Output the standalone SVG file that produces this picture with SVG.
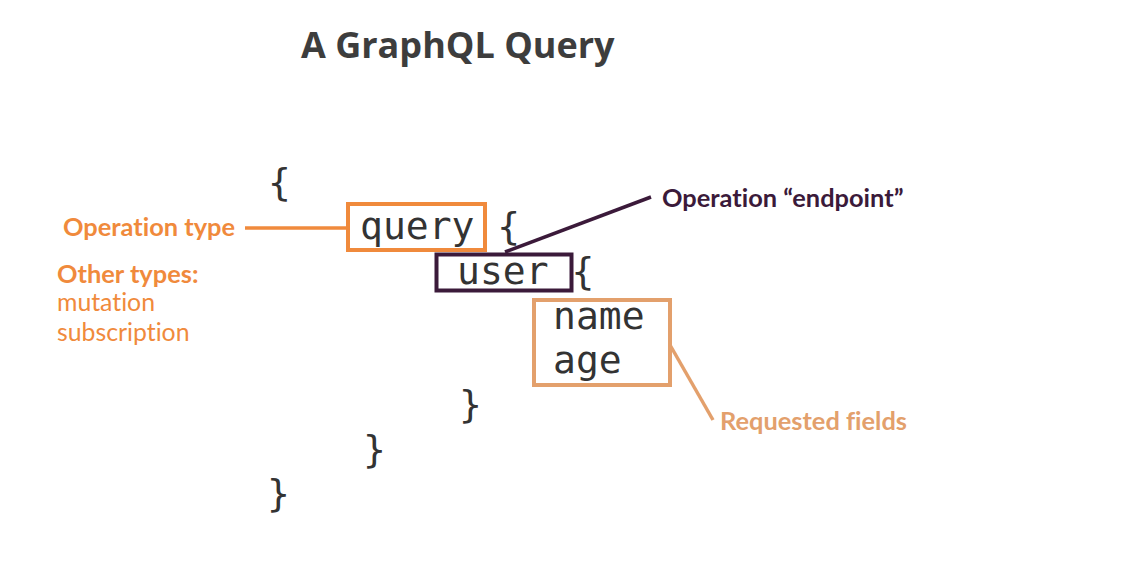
<svg xmlns="http://www.w3.org/2000/svg" width="1121" height="571" viewBox="0 0 1121 571">
<style>
.code{font-family:"DejaVu Sans Mono","Liberation Mono",monospace;font-size:38px;fill:#333333}
.lbl{font-family:Lato,"Open Sans",sans-serif;font-size:24.8px;font-variant-ligatures:none}
.b{font-weight:bold;font-size:25.4px}
.title{font-family:"Open Sans","Noto Sans",sans-serif;font-weight:bold;font-size:36px;fill:#3d3d3d}
.box{fill:none;stroke-width:4}
</style>
<rect width="1121" height="571" fill="#ffffff"/>
<g id="title"><text class="title" x="301" y="58">A GraphQL Query</text></g>
<g id="code">
<text class="code" x="268" y="195">{</text>
<text class="code" x="360" y="239">query {</text>
<text class="code" x="457" y="284">user {</text>
<text class="code" x="553" y="329">name</text>
<text class="code" x="553" y="373">age</text>
<text class="code" x="459" y="417">}</text>
<text class="code" x="363" y="462">}</text>
<text class="code" x="267" y="506">}</text>
</g>
<g id="connectors">
<line x1="245" y1="228" x2="348" y2="228" stroke="#f08a3c" stroke-width="3.5"/>
<line x1="505" y1="252" x2="651" y2="197" stroke="#3b1a3a" stroke-width="3.5"/>
<line x1="670" y1="345" x2="713" y2="420" stroke="#e3a06c" stroke-width="3.5"/>
</g>
<g id="query-box"><rect class="box" x="348" y="204" width="137" height="46" stroke="#f08a3c"/></g>
<g id="user-box"><rect class="box" x="436.5" y="254.5" width="135" height="36" stroke="#3b1a3a"/></g>
<g id="fields-box"><rect class="box" x="534" y="300" width="136" height="85" stroke="#e3a06c"/></g>
<g id="operation-type">
<text class="lbl b" x="63" y="236" fill="#f08a3c">Operation type</text>
<text class="lbl b" x="57" y="283" fill="#f08a3c">Other types:</text>
<text class="lbl" x="57" y="311" fill="#f08a3c">mutation</text>
<text class="lbl" x="57" y="341" fill="#f08a3c">subscription</text>
</g>
<g id="operation-endpoint"><text class="lbl b" x="662" y="207" fill="#3b1a3a">Operation “endpoint”</text></g>
<g id="requested-fields"><text class="lbl b" x="720" y="430" fill="#e3a06c">Requested fields</text></g>
</svg>
